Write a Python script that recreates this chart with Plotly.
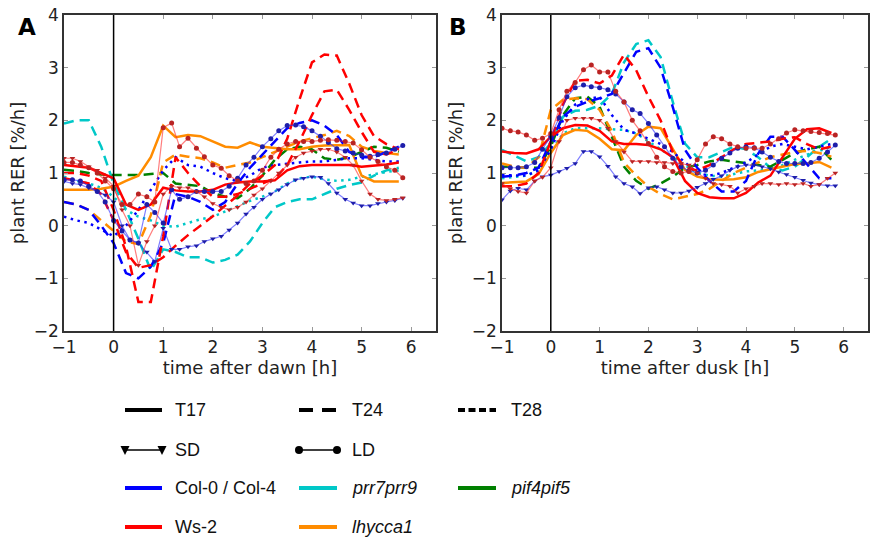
import plotly.graph_objects as go

# time axis [h]
T_COARSE = [-1.0, -0.75, -0.5, -0.25, 0.0, 0.25, 0.5, 0.75, 1.0, 1.25, 1.5, 1.75, 2.0, 2.25,
            2.5, 2.75, 3.0, 3.25, 3.5, 3.75, 4.0, 4.25, 4.5, 4.75, 5.0, 5.25, 5.5, 5.75]
T_FINE = [-1.0, -0.83, -0.67, -0.5, -0.33, -0.17, 0.0, 0.17, 0.33, 0.5, 0.67, 0.83, 1.0, 1.17,
          1.33, 1.5, 1.67, 1.83, 2.0, 2.17, 2.33, 2.5, 2.67, 2.83, 3.0, 3.17, 3.33, 3.5, 3.67,
          3.83, 4.0, 4.17, 4.33, 4.5, 4.67, 4.83, 5.0, 5.17, 5.33, 5.5, 5.67, 5.83]

BLUE = "#0000ff"
RED = "#ff0000"
CYAN = "#00c8c8"
ORANGE = "#ff8c00"
GREEN = "#008000"

# ---- panel A: after dawn ----
a_ws_t17 = [1.15, 1.13, 1.1, 1.0, 0.9, 0.4, 0.3, 0.4, 0.72, 0.67, 0.65, 0.65, 0.68, 0.78,
            0.82, 0.84, 0.84, 0.86, 1.05, 1.13, 1.15, 1.15, 1.15, 1.15, 1.12, 1.14, 1.16, 1.2]
a_lhy_t17 = [0.68, 0.68, 0.68, 0.7, 0.74, 0.85, 0.95, 1.3, 1.9, 1.68, 1.72, 1.7, 1.6, 1.5,
             1.48, 1.58, 1.5, 1.47, 1.45, 1.45, 1.5, 1.52, 1.53, 1.53, 0.95, 0.84, 0.84, 0.84]
a_lhy_t24 = [0.45, 0.4, 0.3, 0.1, -0.1, -0.3, -0.35, 0.2, 1.2, 1.35, 1.31, 1.28, 1.2, 1.1,
             1.15, 1.2, 1.3, 1.4, 1.5, 1.6, 1.66, 1.72, 1.8, 1.7, 1.5, 1.42, 1.38, 1.35]
a_pif_t24 = [1.06, 1.04, 1.0, 0.97, 0.96, 0.96, 0.96, 0.98, 1.0, 0.8, 0.77, 0.75, 0.62, 0.55,
             0.52, 0.7, 0.95, 1.25, 1.45, 1.5, 1.45, 1.28, 1.25, 1.3, 1.4, 1.5, 1.48, 1.4]
a_col_t28 = [0.17, 0.1, 0.05, -0.08, -0.2, 0.0, 0.3, 0.68, 1.05, 1.3, 1.15, 1.12, 1.0, 0.9,
             0.85, 0.95, 1.1, 1.15, 1.18, 1.2, 1.22, 1.22, 1.25, 1.28, 1.28, 1.25, 1.22, 1.22]
a_prr_t28 = [0.93, 0.85, 0.8, 0.72, 0.55, 0.3, 0.17, 0.1, 0.0, -0.02, 0.05, 0.12, 0.17, 0.27,
             0.37, 0.47, 0.55, 0.65, 0.8, 0.9, 0.93, 0.88, 0.85, 0.87, 0.93, 0.98, 1.02, 1.05]
a_prr_t24 = [1.94, 2.0, 2.0, 1.5, 0.8, 0.3, -0.25, -0.85, -0.45, -0.5, -0.6, -0.6, -0.7, -0.65,
             -0.55, -0.3, 0.05, 0.35, 0.45, 0.5, 0.5, 0.6, 0.7, 0.77, 0.82, 0.95, 1.05, 1.1]
a_col_t24 = [0.45, 0.4, 0.3, 0.0, -0.33, -0.9, -1.0, -0.78, -0.33, 0.6, 0.55, 0.45, 0.3, 0.45,
             0.8, 1.1, 1.35, 1.6, 1.85, 1.95, 2.0, 1.9, 1.72, 1.4, 1.3, 1.3, 1.4, 1.5]
a_ws_t24a = [1.0, 1.0, 0.95, 0.85, 0.3, -0.4, -1.45, -1.45, -0.2, 1.3, 1.0, 0.75, 0.55, 0.55,
             0.6, 0.7, 0.8, 0.9, 1.15, 1.6, 2.1, 2.55, 2.58, 2.2, 1.78, 1.4, 1.35, 1.45]
a_ws_t24b = [0.9, 0.85, 0.8, 0.6, 0.1, -0.5, -0.8, -0.75, -0.6, -0.38, -0.18, 0.0, 0.18, 0.38,
             0.57, 0.8, 0.95, 1.15, 1.65, 2.4, 3.1, 3.25, 3.23, 2.7, 2.1, 1.7, 1.55, 1.45]

a_col_sd = [0.84, 0.8, 0.78, 0.72, 0.65, 0.58, 0.45, 0.0, -0.27, -0.33, -0.5, -0.68, -0.05, -0.45,
            -0.45, -0.4, -0.38, -0.3, -0.25, -0.2, -0.08, 0.05, 0.22, 0.35, 0.5, 0.6, 0.68, 0.78,
            0.87, 0.9, 0.93, 0.92, 0.8, 0.62, 0.5, 0.43, 0.38, 0.38, 0.42, 0.45, 0.48, 0.52]
a_col_ld = [0.87, 0.87, 0.85, 0.75, 0.65, 0.45, 0.1, -0.1, -0.27, -0.33, 0.4, 0.25, 0.05, 0.68,
            0.5, 0.55, 0.65, 0.65, 0.65, 0.65, 0.75, 0.9, 1.15, 1.3, 1.5, 1.65, 1.8, 1.9,
            1.91, 1.88, 1.8, 1.7, 1.58, 1.46, 1.42, 1.38, 1.34, 1.32, 1.35, 1.38, 1.45, 1.52]
a_ws_sd = [1.28, 1.28, 1.22, 1.12, 1.05, 0.9, 0.75, 0.3, 0.0, -0.75, -0.3, 0.0, 0.6, 0.75,
           0.72, 0.72, 0.65, 0.55, 0.42, 0.35, 0.3, 0.35, 0.45, 0.58, 0.7, 0.85, 1.0, 1.15,
           1.3, 1.38, 1.42, 1.45, 1.45, 1.4, 1.3, 1.15, 0.85, 0.6, 0.5, 0.48, 0.5, 0.53]
a_ws_ld = [1.2, 1.2, 1.15, 1.1, 1.0, 0.85, 0.7, 0.4, 0.4, 0.6, 0.55, 0.45, 1.86, 1.95,
           1.5, 1.66, 1.47, 1.31, 1.15, 1.09, 0.95, 0.85, 0.8, 0.85, 1.05, 1.3, 1.45, 1.55,
           1.6, 1.6, 1.6, 1.62, 1.63, 1.62, 1.6, 1.57, 1.44, 1.3, 1.22, 1.12, 1.05, 0.91]

# ---- panel B: after dusk ----
b_ws_t17 = [1.41, 1.38, 1.37, 1.45, 1.69, 1.85, 1.91, 1.9, 1.8, 1.6, 1.55, 1.55, 1.53, 1.45,
            1.3, 0.85, 0.62, 0.54, 0.52, 0.52, 0.62, 0.82, 0.95, 1.3, 1.65, 1.83, 1.85, 1.76]
b_lhy_t17 = [0.81, 0.82, 0.84, 0.98, 1.38, 1.72, 1.82, 1.8, 1.65, 1.45, 1.43, 1.72, 1.88, 1.85,
             1.45, 1.06, 0.93, 0.88, 0.87, 0.88, 0.92, 1.02, 1.07, 1.12, 1.17, 1.18, 1.21, 1.1]
b_prr_t24 = [1.44, 1.33, 1.22, 1.3, 1.56, 2.07, 2.18, 2.2, 2.28, 2.5, 3.1, 3.45, 3.52, 3.2,
             2.35, 1.56, 1.3, 1.3, 1.4, 1.5, 1.45, 1.3, 1.1, 1.05, 1.12, 1.3, 1.5, 1.65]
b_col_t24 = [0.93, 0.95, 1.0, 1.1, 1.6, 2.07, 2.26, 2.35, 2.42, 2.5, 2.9, 3.3, 3.37, 3.0,
             2.25, 1.44, 1.1, 0.85, 0.65, 0.65, 0.85, 1.37, 1.69, 1.69, 1.44, 1.18, 0.9, 0.9]
b_ws_t24 = [0.75, 0.75, 0.8, 1.0, 1.6, 2.3, 2.75, 2.77, 2.7, 2.85, 3.25, 2.95, 2.45, 2.0,
            1.4, 1.1, 1.05, 1.15, 1.3, 1.45, 1.55, 1.58, 1.6, 1.65, 1.68, 1.55, 1.45, 1.5]
b_pif_t24 = [1.12, 1.12, 1.1, 1.1, 1.5, 2.1, 2.42, 2.45, 2.26, 1.7, 1.12, 0.85, 0.7, 0.8,
             0.93, 1.1, 1.15, 1.22, 1.25, 1.22, 1.19, 1.15, 1.12, 1.25, 1.38, 1.45, 1.5, 1.25]
b_lhy_t24 = [1.18, 1.12, 1.1, 1.3, 2.2, 2.39, 2.42, 2.4, 2.2, 1.8, 1.2, 0.95, 0.74, 0.6,
             0.5, 0.55, 0.6, 0.7, 0.85, 1.0, 1.1, 1.2, 1.3, 1.35, 1.4, 1.42, 1.38, 1.31]
b_col_t28 = [0.96, 0.95, 0.95, 1.05, 1.45, 2.0, 2.3, 2.4, 2.45, 2.1, 1.82, 1.75, 1.65, 1.55,
             1.4, 1.2, 1.0, 0.95, 1.0, 1.1, 1.2, 1.35, 1.5, 1.55, 1.5, 1.45, 1.5, 1.55]
b_prr_t28 = [0.9, 0.92, 0.95, 1.05, 1.4, 1.75, 1.85, 1.85, 1.85, 1.83, 1.82, 1.75, 1.6, 1.45,
             1.3, 1.15, 1.0, 0.95, 0.93, 0.98, 1.03, 1.05, 1.08, 1.15, 1.25, 1.35, 1.42, 1.5]

b_ws_ld = [1.85, 1.8, 1.78, 1.72, 1.62, 1.66, 1.75, 2.2, 2.55, 2.72, 2.96, 3.05, 2.92, 2.92,
           2.55, 2.35, 2.0, 1.8, 1.56, 1.3, 1.12, 1.03, 1.0, 1.03, 1.25, 1.55, 1.69, 1.65,
           1.55, 1.5, 1.47, 1.47, 1.47, 1.55, 1.65, 1.76, 1.82, 1.8, 1.79, 1.77, 1.75, 1.72]
b_ws_sd = [0.8, 0.7, 0.65, 0.62, 0.85, 0.92, 1.1, 1.6, 2.0, 2.04, 2.04, 2.04, 2.0, 1.85,
           1.6, 1.4, 1.22, 1.22, 1.22, 1.2, 1.2, 1.18, 1.18, 1.15, 1.0, 0.9, 0.8, 0.78,
           0.75, 0.62, 0.7, 0.75, 0.8, 0.8, 0.78, 0.8, 0.78, 0.8, 0.75, 0.78, 0.9, 1.0]
b_col_ld = [1.1, 1.1, 1.1, 1.12, 1.2, 1.45, 1.7, 2.05, 2.45, 2.62, 2.67, 2.64, 2.62, 2.58,
            2.5, 2.35, 2.2, 2.13, 1.94, 1.72, 1.5, 1.28, 1.12, 1.04, 1.0, 1.05, 1.15, 1.28,
            1.38, 1.47, 1.5, 1.48, 1.4, 1.3, 1.22, 1.18, 1.18, 1.18, 1.2, 1.28, 1.4, 1.53]
b_col_sd = [0.49, 0.66, 0.71, 0.68, 0.85, 0.93, 0.96, 1.03, 1.09, 1.18, 1.41, 1.41, 1.31, 1.13,
            0.93, 0.8, 0.74, 0.61, 0.72, 0.74, 0.68, 0.62, 0.62, 0.66, 0.73, 0.8, 0.88, 0.95,
            1.05, 1.12, 1.15, 1.15, 1.12, 1.08, 1.02, 0.97, 0.92, 0.86, 0.81, 0.78, 0.76, 0.76]

DASHES = {"T17": "solid", "T24": "10px,6px", "T28": "2.5px,4.5px"}

# (values, colour, temperature) for the thick lines
panel_a_lines = [
    (a_prr_t24, CYAN, "T24"), (a_prr_t28, CYAN, "T28"), (a_pif_t24, GREEN, "T24"),
    (a_lhy_t24, ORANGE, "T24"), (a_lhy_t17, ORANGE, "T17"), (a_col_t28, BLUE, "T28"),
    (a_col_t24, BLUE, "T24"), (a_ws_t24a, RED, "T24"), (a_ws_t24b, RED, "T24"),
    (a_ws_t17, RED, "T17"),
]
panel_b_lines = [
    (b_prr_t24, CYAN, "T24"), (b_prr_t28, CYAN, "T28"), (b_pif_t24, GREEN, "T24"),
    (b_lhy_t24, ORANGE, "T24"), (b_lhy_t17, ORANGE, "T17"), (b_col_t28, BLUE, "T28"),
    (b_col_t24, BLUE, "T24"), (b_ws_t24, RED, "T24"), (b_ws_t17, RED, "T17"),
]
# (values, genotype, photoperiod) for the thin lines with markers
panel_a_photo = [(a_col_sd, "col", "SD"), (a_col_ld, "col", "LD"),
                 (a_ws_sd, "ws", "SD"), (a_ws_ld, "ws", "LD")]
panel_b_photo = [(b_col_sd, "col", "SD"), (b_col_ld, "col", "LD"),
                 (b_ws_sd, "ws", "SD"), (b_ws_ld, "ws", "LD")]

THIN_LINE = {"col": "rgba(40,40,255,0.6)", "ws": "rgba(255,40,40,0.6)"}
THIN_MARK = {"col": "rgb(30,30,170)", "ws": "rgb(185,35,35)"}
SYMBOL = {"SD": "triangle-down", "LD": "circle"}

fig = go.Figure()

for xa, ya, lines, photo in [("x", "y", panel_a_lines, panel_a_photo),
                             ("x2", "y2", panel_b_lines, panel_b_photo)]:
    for values, color, temp in lines:
        fig.add_trace(go.Scatter(
            x=T_COARSE, y=values, mode="lines", xaxis=xa, yaxis=ya,
            line=dict(color=color, width=2.5, dash=DASHES[temp]),
            showlegend=False, hoverinfo="skip"))
    for values, geno, day in photo:
        fig.add_trace(go.Scatter(
            x=T_FINE, y=values, mode="lines+markers", xaxis=xa, yaxis=ya,
            line=dict(color=THIN_LINE[geno], width=1.2),
            marker=dict(symbol=SYMBOL[day], size=5, color=THIN_MARK[geno]),
            showlegend=False, hoverinfo="skip"))

# ---- legend below the panels: samples as paper shapes, labels as annotations ----
W, H = 874, 540
LEG_COLS = [(125, 162, 173), (299, 337, 350), (458, 496, 509)]
LEG_ROWS = [410, 450, 488, 527]
legend_temp = ["T17", "T24", "T28"]
legend_temp_dash = {"T17": "solid", "T24": "14px,9px", "T28": "7px,3.5px"}
legend_day = ["SD", "LD"]
legend_geno = [("Col-0 / Col-4", BLUE), ("<i>prr7prr9</i>", CYAN), ("<i>pif4pif5</i>", GREEN),
               ("Ws-2", RED), ("<i>lhycca1</i>", ORANGE)]

shapes = []
annotations = []


def px_x(v):
    return v / W


def px_y(v):
    return 1 - v / H


def legend_entry(col, row, text, line):
    x0, x1, xt = LEG_COLS[col]
    yy = LEG_ROWS[row]
    shapes.append(dict(type="line", xref="paper", yref="paper", x0=px_x(x0), x1=px_x(x1),
                       y0=px_y(yy), y1=px_y(yy), line=line))
    annotations.append(dict(
        x=px_x(xt), y=px_y(yy), xref="paper", yref="paper", text=text, showarrow=False,
        xanchor="left", yanchor="middle",
        font=dict(family="Liberation Sans, Arial, sans-serif", size=18, color="#111")))


for i, name in enumerate(legend_temp):
    legend_entry(i, 0, name, dict(color="black", width=4, dash=legend_temp_dash[name]))
for i, name in enumerate(legend_day):
    legend_entry(i, 1, name, dict(color="black", width=1.5))
    x0, x1, _ = LEG_COLS[i]
    yy = LEG_ROWS[1]
    for xe in (x0, x1):
        if name == "LD":
            shapes.append(dict(type="circle", xref="paper", yref="paper",
                               x0=px_x(xe - 4), x1=px_x(xe + 4), y0=px_y(yy + 4), y1=px_y(yy - 4),
                               fillcolor="black", line=dict(width=0)))
        else:
            path = "M %f,%f L %f,%f L %f,%f Z" % (px_x(xe - 4.5), px_y(yy - 4), px_x(xe + 4.5),
                                                  px_y(yy - 4), px_x(xe), px_y(yy + 5))
            shapes.append(dict(type="path", xref="paper", yref="paper", path=path,
                               fillcolor="black", line=dict(width=0)))
for k, (name, color) in enumerate(legend_geno):
    legend_entry(k % 3, 2 + k // 3, name, dict(color=color, width=4))

for label, px in [("A", 27), ("B", 458)]:
    annotations.append(dict(
        x=px_x(px), y=px_y(27), xref="paper", yref="paper", text="<b>%s</b>" % label,
        showarrow=False, xanchor="center", yanchor="middle",
        font=dict(family="DejaVu Sans", size=23, color="black")))

# vertical marker at t = 0 in both panels
for xr, yr in [("x", "y"), ("x2", "y2")]:
    shapes.append(dict(type="line", xref=xr, yref=yr + " domain", x0=0, x1=0, y0=0, y1=1,
                       line=dict(color="black", width=1.5)))

axis_font = dict(family="DejaVu Sans", size=17, color="#222")
title_font = dict(family="DejaVu Sans", size=18, color="#222")
common_x = dict(range=[-1, 6.5], tickvals=[-1, 0, 1, 2, 3, 4, 5, 6], showgrid=False,
                zeroline=False, showline=True, mirror="ticks", linecolor="#333", linewidth=1.5,
                ticks="inside", ticklen=4, tickcolor="#999", tickfont=axis_font,
                automargin=False)
common_y = dict(range=[-2, 4], tickvals=[-2, -1, 0, 1, 2, 3, 4], showgrid=False,
                zeroline=False, showline=True, mirror="ticks", linecolor="#333", linewidth=1.5,
                ticks="inside", ticklen=4, tickcolor="#999", tickfont=axis_font,
                automargin=False, domain=[1 - 331 / H, 1 - 15 / H],
                title=dict(text="plant RER [%/h]", font=title_font, standoff=4))

fig.update_layout(
    width=W, height=H,
    margin=dict(l=0, r=0, t=0, b=0, autoexpand=False),
    paper_bgcolor="white", plot_bgcolor="white",
    showlegend=False,
    xaxis=dict(common_x, domain=[64 / W, 436 / W], anchor="y",
               title=dict(text="time after dawn [h]", font=title_font, standoff=2)),
    yaxis=dict(common_y, anchor="x"),
    xaxis2=dict(common_x, domain=[502 / W, 868 / W], anchor="y2",
                title=dict(text="time after dusk [h]", font=title_font, standoff=2)),
    yaxis2=dict(common_y, anchor="x2"),
    annotations=annotations,
    shapes=shapes,
)

# the page body has a default 8px margin; drop it so the figure fills the window
fig.write_html("out.html", config={"displayModeBar": False},
               post_script="document.body.style.margin = '0';")
